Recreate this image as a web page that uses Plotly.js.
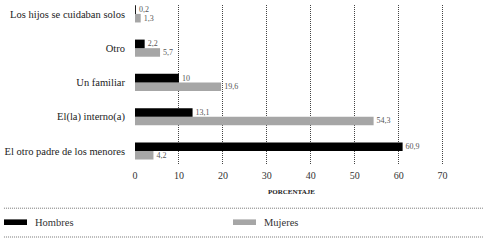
<!DOCTYPE html>
<html><head><meta charset="utf-8">
<script src="https://cdn.plot.ly/plotly-3.0.1.min.js"></script>
<style>html,body{margin:0;padding:0;background:#fff}#c{width:488px;height:241px}</style>
</head><body><div id="c"></div>
<script>
const categories = ["El otro padre de los menores","El(la) interno(a)","Un familiar","Otro","Los hijos se cuidaban solos"];
const hombres = [60.9, 13.1, 10, 2.2, 0.2];
const mujeres = [4.2, 54.3, 19.6, 5.7, 1.3];
const seriesNames = ["Hombres","Mujeres"];
const seriesColors = ["#000000","#a6a6a6"];
const xTicks = [0,10,20,30,40,50,60,70];
const fmt = v => String(v).replace('.', ',');
const serif = "Liberation Serif, DejaVu Serif, serif";
const lblFont = {family:serif,size:8,color:'#555'};

const traces = [
  {type:'bar', orientation:'h', name:seriesNames[1], y:categories, x:mujeres,
   marker:{color:seriesColors[1]}, text:mujeres.map(fmt), textposition:'outside',
   textfont:lblFont, outsidetextfont:lblFont, constraintext:'none', cliponaxis:false, showlegend:false},
  {type:'bar', orientation:'h', name:seriesNames[0], y:categories, x:hombres,
   marker:{color:seriesColors[0]}, text:hombres.map(fmt), textposition:'outside',
   textfont:lblFont, outsidetextfont:lblFont, constraintext:'none', cliponaxis:false, showlegend:false}
];

const shapes = [
  {type:'line', xref:'paper', yref:'paper', x0:-0.42, x1:1.115, y0:-0.27, y1:-0.27, line:{color:'#777',width:1,dash:'1px,1px'}},
  {type:'line', xref:'paper', yref:'paper', x0:-0.42, x1:1.115, y0:-0.45, y1:-0.45, line:{color:'#777',width:1,dash:'1px,1px'}}
];
const annotations = [
  {xref:'paper', yref:'paper', x:0.5, y:-0.17, text:'PORCENTAJE', showarrow:false, yanchor:'middle',
   font:{family:serif,size:7,color:'#222',weight:'bold'}}
];
const legX = [4, 233];
for (let i=0;i<2;i++){
  const px0 = (legX[i]-135)/312, px1 = (legX[i]+23-135)/312;
  shapes.push({type:'rect', xref:'paper', yref:'paper', x0:px0, x1:px1, y0:-0.34, y1:-0.375,
    fillcolor:seriesColors[i], line:{width:0}});
  annotations.push({xref:'paper', yref:'paper', x:(legX[i]+29-135)/312, y:-0.357, xanchor:'left', yanchor:'middle',
    text:seriesNames[i], showarrow:false, font:{family:serif,size:10.5,color:'#333'}});
}

const layout = {
  width:488, height:241,
  margin:{l:135, r:41, t:5, b:76},
  paper_bgcolor:'#fff', plot_bgcolor:'#fff',
  barmode:'group', bargap:0.5, bargroupgap:0,
  showlegend:false,
  xaxis:{range:[0,71], tickvals:xTicks, ticktext:xTicks.map(String), showgrid:true,
    gridcolor:'#444', griddash:'1px,1px', gridwidth:1, zeroline:false, showline:false, ticks:'',
    ticklabelstandoff:3, tickfont:{family:serif,size:10,color:'#333'}},
  yaxis:{type:'category', categoryorder:'array', categoryarray:categories, range:[-0.41,4.26],
    showgrid:false, zeroline:false, showline:false, ticks:'', ticklabelstandoff:9,
    tickfont:{family:serif,size:10.5,color:'#222'}},
  shapes:shapes, annotations:annotations
};
Plotly.newPlot('c', traces, layout, {staticPlot:true, displayModeBar:false});
</script></body></html>
